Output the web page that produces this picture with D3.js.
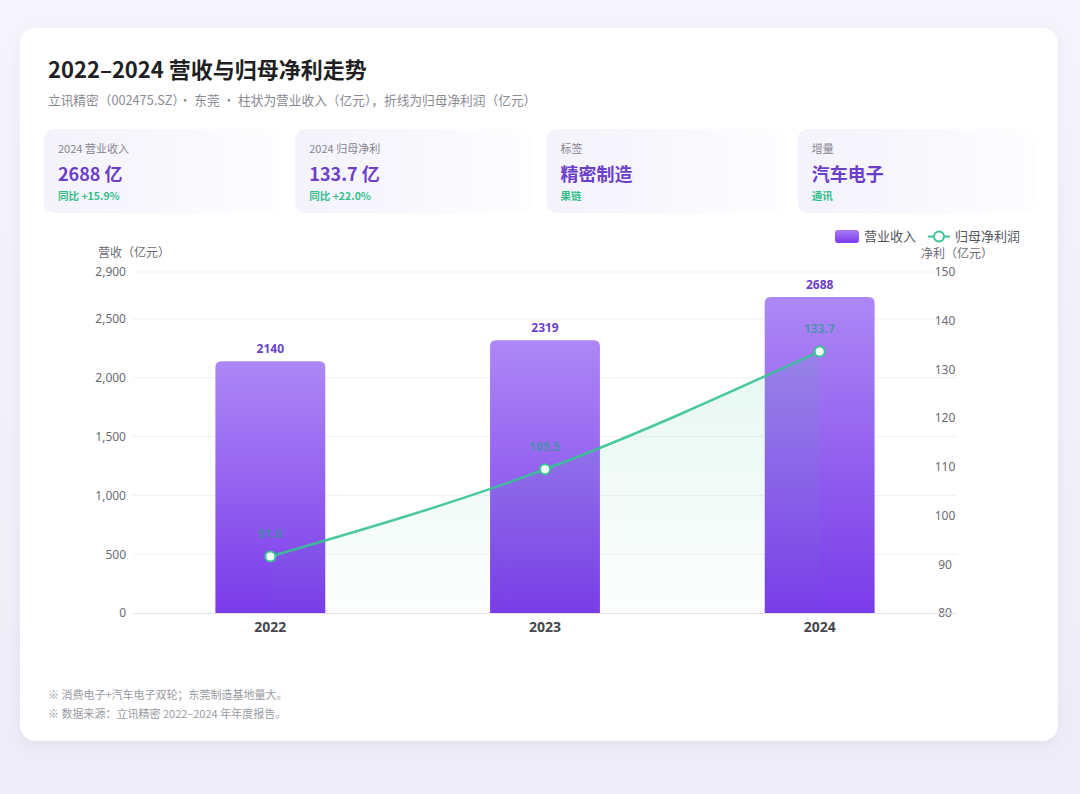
<!DOCTYPE html>
<html>
<head>
<meta charset="utf-8">
<script src="https://cdn.jsdelivr.net/npm/d3@7"></script>
<style>
  html, body { margin: 0; padding: 0; }
  body { width: 1080px; height: 794px; overflow: hidden;
    background: linear-gradient(180deg, #f6f5fb 0%, #eeecf7 100%);
    font-family: "Noto Sans CJK SC", "Noto Sans", sans-serif; }
</style>
</head>
<body>
<svg id="chart" width="1080" height="794"></svg>
<script>
'use strict';

const years = ['2022', '2023', '2024'];
const revenue = [2140, 2319, 2688];
const netProfit = [91.6, 109.5, 133.7];
const leftTicks = [0, 500, 1000, 1500, 2000, 2500, 2900];
const rightTicks = [80, 90, 100, 110, 120, 130, 140, 150];

const kpis = [
  {label: '2024 营业收入', value: '2688 亿', sub: '同比 +15.9%'},
  {label: '2024 归母净利', value: '133.7 亿', sub: '同比 +22.0%'},
  {label: '标签', value: '精密制造', sub: '果链'},
  {label: '增量', value: '汽车电子', sub: '通讯'}
];
const notes = [
  '※ 消费电子+汽车电子双轮；东莞制造基地量大。',
  '※ 数据来源：立讯精密 2022–2024 年年度报告。'
];

const svg = d3.select('#chart');
const defs = svg.append('defs');

// card shadow
let shadow = defs.append('filter').attr('id', 'shadow')
  .attr('x', '-10%').attr('y', '-10%').attr('width', '120%').attr('height', '120%');
shadow.append('feDropShadow').attr('dx', 0).attr('dy', 4).attr('stdDeviation', 8)
  .attr('flood-color', '#8a7fc0').attr('flood-opacity', 0.12);

let barGrad = defs.append('linearGradient').attr('id', 'barGrad')
  .attr('x1', 0).attr('y1', 0).attr('x2', 0).attr('y2', 1);
barGrad.append('stop').attr('offset', '0%').attr('stop-color', '#ad87f6');
barGrad.append('stop').attr('offset', '100%').attr('stop-color', '#7a3be9');

let areaGrad = defs.append('linearGradient').attr('id', 'areaGrad')
  .attr('x1', 0).attr('y1', 0).attr('x2', 0).attr('y2', 1);
areaGrad.append('stop').attr('offset', '0%').attr('stop-color', '#3cc495').attr('stop-opacity', 0.16);
areaGrad.append('stop').attr('offset', '100%').attr('stop-color', '#3cc495').attr('stop-opacity', 0.02);

let kpiGrad = defs.append('linearGradient').attr('id', 'kpiGrad')
  .attr('x1', 0).attr('y1', 0).attr('x2', 1).attr('y2', 0);
kpiGrad.append('stop').attr('offset', '0%').attr('stop-color', '#f4f2fb');
kpiGrad.append('stop').attr('offset', '100%').attr('stop-color', '#fdfdff');

let legGrad = defs.append('linearGradient').attr('id', 'legGrad')
  .attr('x1', 0).attr('y1', 0).attr('x2', 0).attr('y2', 1);
legGrad.append('stop').attr('offset', '0%').attr('stop-color', '#a77cf4');
legGrad.append('stop').attr('offset', '100%').attr('stop-color', '#7c3aed');

// white card
svg.append('rect')
  .attr('x', 20).attr('y', 28).attr('width', 1038).attr('height', 713)
  .attr('rx', 16).attr('fill', '#ffffff').attr('filter', 'url(#shadow)');

svg.append('text')
  .attr('x', 48).attr('y', 78)
  .attr('font-size', 22).attr('font-weight', 700).attr('fill', '#1f1f24')
  .text('2022–2024 营收与归母净利走势');

svg.append('text')
  .attr('x', 48).attr('y', 105)
  .attr('font-size', 12.7).attr('fill', '#8a8a93')
  .text('立讯精密（002475.SZ）· 东莞 · 柱状为营业收入（亿元），折线为归母净利润（亿元）');

// KPI cards
let kpiX = d3.scaleBand().domain(d3.range(kpis.length)).range([44, 1034]).paddingInner(0.06);
let kpi = svg.selectAll('.kpi').data(kpis).enter().append('g')
  .attr('class', 'kpi')
  .attr('transform', function(d, i) { return 'translate(' + kpiX(i) + ',129)'; });
kpi.append('rect')
  .attr('width', kpiX.bandwidth()).attr('height', 84).attr('rx', 10)
  .attr('fill', 'url(#kpiGrad)');
kpi.append('text').attr('x', 14).attr('y', 24)
  .attr('font-size', 11).attr('fill', '#85858f').text(d => d.label);
kpi.append('text').attr('x', 14).attr('y', 52)
  .attr('font-size', 18).attr('font-weight', 700).attr('fill', '#6c3fc9').text(d => d.value);
kpi.append('text').attr('x', 14).attr('y', 71)
  .attr('font-size', 10.5).attr('font-weight', 600).attr('fill', '#35bf8c').text(d => d.sub);

// chart scales
const plot = {left: 133, right: 957, top: 272, bottom: 613};
let x = d3.scaleBand().domain(years).range([plot.left, plot.right]).padding(0);
let yL = d3.scaleLinear().domain([0, 2900]).range([plot.bottom, plot.top]);
let yR = d3.scaleLinear().domain([80, 150]).range([plot.bottom, plot.top]);
let barW = x.bandwidth() * 0.4;

// grid
svg.append('g').selectAll('line').data(leftTicks.filter(d => d > 0)).enter().append('line')
  .attr('x1', plot.left).attr('x2', plot.right)
  .attr('y1', d => yL(d)).attr('y2', d => yL(d))
  .attr('stroke', '#f1f0f5').attr('stroke-width', 1);

// left axis
let leftAxis = svg.append('g')
  .attr('transform', 'translate(' + plot.left + ',0)')
  .call(d3.axisLeft(yL).tickValues(leftTicks).tickFormat(d3.format(',')).tickSize(0).tickPadding(7));
leftAxis.select('.domain').remove();
leftAxis.selectAll('text').attr('font-size', 12).attr('fill', '#6b6b74')
  .attr('font-family', '"Noto Sans", sans-serif');

// right axis
let rightAxis = svg.append('g')
  .attr('transform', 'translate(' + plot.right + ',0)')
  .call(d3.axisRight(yR).tickValues(rightTicks).tickSize(0).tickPadding(-12));
rightAxis.select('.domain').remove();
rightAxis.selectAll('text').attr('font-size', 12).attr('fill', '#6b6b74')
  .attr('text-anchor', 'middle')
  .attr('font-family', '"Noto Sans", sans-serif');

// baseline
svg.append('line')
  .attr('x1', plot.left).attr('x2', plot.right)
  .attr('y1', plot.bottom + 0.5).attr('y2', plot.bottom + 0.5)
  .attr('stroke', '#e3e2ea');

// x axis labels
let xAxis = svg.append('g')
  .attr('transform', 'translate(0,' + plot.bottom + ')')
  .call(d3.axisBottom(x).tickSize(0).tickPadding(9));
xAxis.select('.domain').remove();
xAxis.selectAll('text').attr('font-size', 14).attr('font-weight', 700).attr('fill', '#46464e')
  .attr('font-family', '"Noto Sans", sans-serif');

// axis titles
svg.append('text').attr('x', 98).attr('y', 257)
  .attr('font-size', 12).attr('fill', '#6b6b74').text('营收（亿元）');
svg.append('text').attr('x', 921).attr('y', 258)
  .attr('font-size', 12).attr('fill', '#6b6b74').text('净利（亿元）');

// bars
function topRounded(x0, y0, w, h, r) {
  return 'M' + x0 + ',' + (y0 + h) +
    'V' + (y0 + r) + 'Q' + x0 + ',' + y0 + ' ' + (x0 + r) + ',' + y0 +
    'H' + (x0 + w - r) + 'Q' + (x0 + w) + ',' + y0 + ' ' + (x0 + w) + ',' + (y0 + r) +
    'V' + (y0 + h) + 'Z';
}
svg.append('g').selectAll('path').data(revenue).enter().append('path')
  .attr('d', function(d, i) {
    let cx = x(years[i]) + x.bandwidth() / 2;
    return topRounded(cx - barW / 2, yL(d), barW, plot.bottom - yL(d), 6);
  })
  .attr('fill', 'url(#barGrad)');

svg.append('g').selectAll('text').data(revenue).enter().append('text')
  .attr('x', (d, i) => x(years[i]) + x.bandwidth() / 2)
  .attr('y', d => yL(d) - 8)
  .attr('text-anchor', 'middle')
  .attr('font-size', 12).attr('font-weight', 700).attr('fill', '#6c3fc9')
  .attr('font-family', '"Noto Sans", sans-serif')
  .text(d => d);

// profit line
let pts = netProfit.map((d, i) => [x(years[i]) + x.bandwidth() / 2, yR(d)]);
let area = d3.area().x(d => d[0]).y0(plot.bottom).y1(d => d[1]).curve(d3.curveMonotoneX);
let line = d3.line().x(d => d[0]).y(d => d[1]).curve(d3.curveMonotoneX);

svg.append('path').datum(pts).attr('d', area).attr('fill', 'url(#areaGrad)').attr('opacity', 0.8);
svg.append('path').datum(pts).attr('d', line)
  .attr('fill', 'none').attr('stroke', '#36c293').attr('stroke-width', 2.5)
  .attr('opacity', 0.9);

svg.append('g').selectAll('text').data(netProfit).enter().append('text')
  .attr('x', (d, i) => pts[i][0])
  .attr('y', (d, i) => pts[i][1] - 18)
  .attr('text-anchor', 'middle')
  .attr('font-size', 12).attr('font-weight', 700).attr('fill', '#2a9d8f')
  .attr('opacity', 0.7)
  .attr('font-family', '"Noto Sans", sans-serif')
  .text(d => d.toFixed(1));

svg.append('g').selectAll('circle').data(pts).enter().append('circle')
  .attr('cx', d => d[0]).attr('cy', d => d[1]).attr('r', 5)
  .attr('fill', '#f4fffb').attr('stroke', '#3cc495').attr('stroke-width', 2);

// legend
let legend = svg.append('g').attr('transform', 'translate(835,230)');
legend.append('rect').attr('width', 24).attr('height', 13).attr('rx', 3).attr('fill', 'url(#legGrad)');
legend.append('text').attr('x', 29).attr('y', 11).attr('font-size', 13).attr('fill', '#55555e').text('营业收入');
legend.append('line').attr('x1', 93).attr('x2', 115).attr('y1', 6.5).attr('y2', 6.5)
  .attr('stroke', '#3cc495').attr('stroke-width', 2);
legend.append('circle').attr('cx', 104).attr('cy', 6.5).attr('r', 5)
  .attr('fill', '#ffffff').attr('stroke', '#3cc495').attr('stroke-width', 2);
legend.append('text').attr('x', 120).attr('y', 11).attr('font-size', 13).attr('fill', '#55555e').text('归母净利润');

// notes
svg.append('g').selectAll('text').data(notes).enter().append('text')
  .attr('x', 48).attr('y', (d, i) => 699 + i * 19)
  .attr('font-size', 11).attr('fill', '#9a9aa3')
  .text(d => d);
</script>
</body>
</html>
